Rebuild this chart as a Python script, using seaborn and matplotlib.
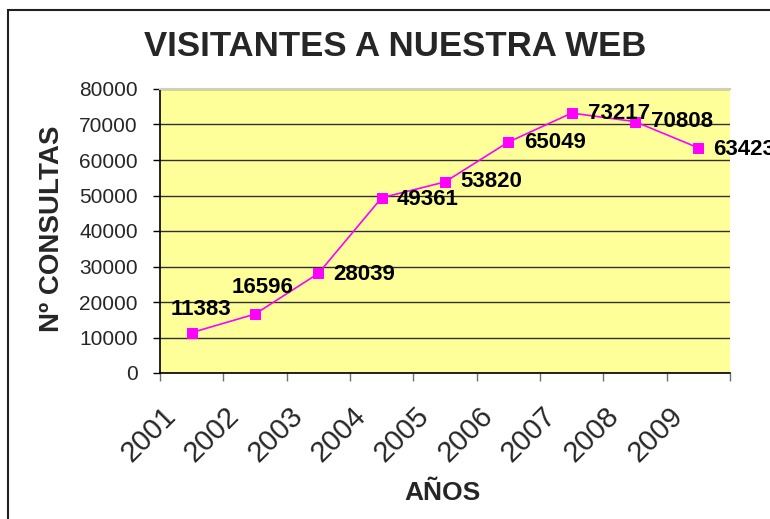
import matplotlib
matplotlib.use("Agg")
import matplotlib.pyplot as plt
import matplotlib.transforms as mtransforms
from matplotlib.patches import Rectangle
import seaborn as sns
import pandas as pd
import numpy as np

years = ["2001", "2002", "2003", "2004", "2005", "2006", "2007", "2008", "2009"]
visits = [11383, 16596, 28039, 49361, 53820, 65049, 73217, 70808, 63423]
y_ticks = [0, 10000, 20000, 30000, 40000, 50000, 60000, 70000, 80000]
title = "VISITANTES A NUESTRA WEB"
xlabel = "AÑOS"
ylabel = "Nº CONSULTAS"

sns.set_style("white")
plt.rcParams['font.family'] = ['Liberation Sans', 'DejaVu Sans']

df = pd.DataFrame({"pos": np.arange(len(years)), "year": years, "visits": visits})

DPI = 100
fig = plt.figure(figsize=(7.70, 5.19), dpi=DPI)
W, H = 770, 519
ax = fig.add_axes([160 / W, 1 - 373 / H, (730 - 160) / W, (373 - 89) / H])
ax.set_facecolor("#FFFF99")

sns.lineplot(data=df, x="pos", y="visits", ax=ax, color="#FF00FF", linewidth=1.2,
             marker="s", markersize=6.5, markeredgecolor="#FF00FF",
             markerfacecolor="#FF00FF", zorder=3)

ax.set_xlim(-0.5, len(years) - 0.5)
ax.set_ylim(0, 80000)
ax.set_yticks(y_ticks)
ax.set_yticklabels([str(v) for v in y_ticks], fontsize=15)
ax.yaxis.grid(True, color="#303030", linewidth=1)
ax.set_axisbelow(True)
ax.tick_params(axis="y", direction="out", length=5, width=1, color="black", pad=11, left=True)

# x axis: labels at centers, tick marks at boundaries
ax.set_xticks(df["pos"])
ax.set_xticklabels(years, fontsize=21, rotation=45, ha="right", va="center",
                   rotation_mode="anchor")
ax.tick_params(axis="x", which="major", length=0, pad=28, bottom=True)
ax.set_xticks(np.arange(-0.5, len(years), 1.0), minor=True)
ax.tick_params(axis="x", which="minor", direction="out", length=6, width=1,
               color="#707070", bottom=True)
offset = mtransforms.ScaledTranslation(-20 / DPI, 0, fig.dpi_scale_trans)
for lbl in ax.get_xticklabels():
    lbl.set_transform(lbl.get_transform() + offset)

ax.set_xlabel("")
ax.set_ylabel("")
for s in ["left", "bottom"]:
    ax.spines[s].set_color("black")
    ax.spines[s].set_linewidth(1.2)
ax.spines["right"].set_visible(False)
ax.spines["top"].set_color("#d0d0c0")
ax.spines["top"].set_linewidth(1.5)

# data labels
offsets = [(-21, 23), (-23, 27), (15, -1), (15, -2), (15, 0), (16, 0), (16, 0), (16, 0), (15, -2)]
for (x, y), (dx, dy) in zip(zip(df["pos"], df["visits"]), offsets):
    ax.annotate(str(y), (x, y), xytext=(dx, dy), textcoords="offset pixels",
                ha="left", va="center", fontsize=16, fontweight="bold",
                color="black", annotation_clip=False, zorder=4)

fig.text(395 / W, 1 - 46 / H, title, ha="center", va="center", fontsize=25,
         fontweight="bold")
fig.text(52 / W, 1 - 229 / H, ylabel, ha="center", va="center", rotation=90,
         fontsize=20, fontweight="bold")
fig.text(442 / W, 1 - 493 / H, xlabel, ha="center", va="center", fontsize=19,
         fontweight="bold")

fig.patches.append(Rectangle((8 / W, -0.1), 1.2, 1 - 10 / H + 0.1,
                             transform=fig.transFigure, fill=False,
                             edgecolor="#202020", linewidth=1.5))

fig.savefig("out.png", dpi=DPI)
